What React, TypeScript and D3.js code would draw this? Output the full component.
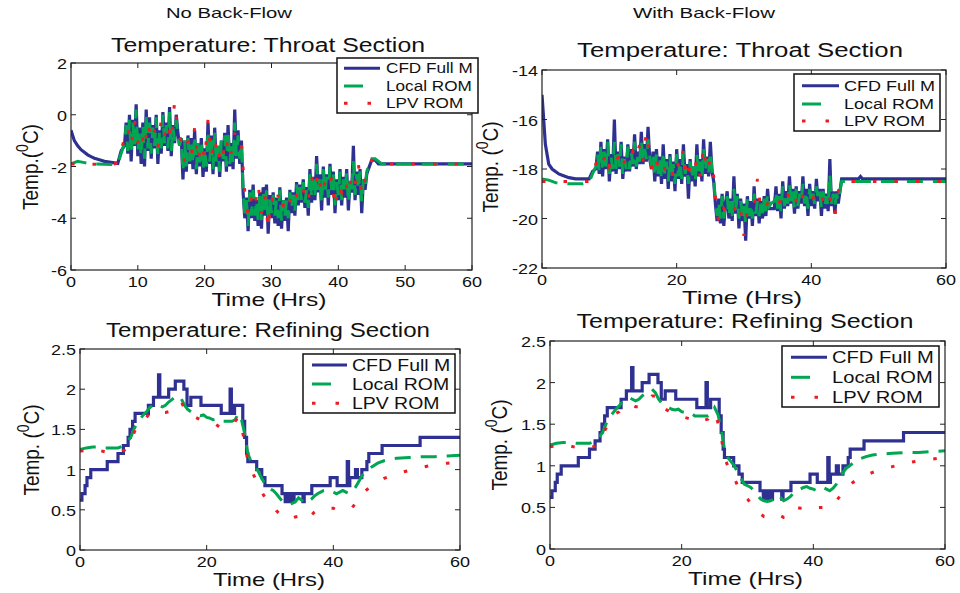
import React from "react";
import * as d3 from "d3";

type Pt = [number, number];

const seriesNames = ["CFD Full M", "Local ROM", "LPV ROM"];
const columnTitles = ["No Back-Flow", "With Back-Flow"];
const throatTitle = "Temperature: Throat Section";
const refiningTitle = "Temperature: Refining Section";
const xLabelText = "Time (Hrs)";

const xTicksFine = [0, 10, 20, 30, 40, 50, 60];
const xTicksCoarse = [0, 20, 40, 60];
const yTicksThroatNbf = [-6, -4, -2, 0, 2];
const yTicksThroatBf = [-22, -20, -18, -16, -14];
const yTicksRefining = [0, 0.5, 1, 1.5, 2, 2.5];

// ---- Throat section, no back-flow ----
const nbfThroatCfd: Pt[] = [
  [0, -0.6], [0.5, -1.0], [1, -1.2], [1.5, -1.35], [2, -1.45], [2.5, -1.55], [3, -1.62], [3.5, -1.68],
  [4, -1.72], [4.5, -1.76], [5, -1.8], [5.5, -1.82], [6, -1.84], [6.5, -1.86], [7, -1.88], [7.5, -1.4],
  [8, -1.2], [8.25, -0.3], [8.5, -1.5], [8.75, 0.0], [9, -1.8], [9.25, -0.2], [9.5, -1.2], [9.75, 0.4],
  [10, -1.6], [10.25, -0.5], [10.5, -1.9], [10.75, -0.3], [11, -2.0], [11.25, 0.2], [11.5, -1.4], [11.75, -0.1],
  [12, -1.7], [12.25, -0.4], [12.5, -1.3], [12.75, 0.0], [13, -1.9], [13.25, -0.6], [13.5, -1.5], [13.75, 0.1],
  [14, -1.2], [14.25, -0.3], [14.5, -1.4], [14.75, 0.3], [15, -1.6], [15.25, -0.4], [15.5, -1.1], [15.75, 0.0],
  [16, -0.7], [16.25, -1.2], [16.5, -0.9], [16.75, -2.5], [17, -1.0], [17.25, -2.2], [17.5, -0.8], [17.75, -1.9],
  [18, -0.9], [18.25, -2.1], [18.5, -0.6], [18.75, -2.3], [19, -1.1], [19.25, -2.0], [19.5, -0.9], [19.75, -2.4],
  [20, -1.3], [20.25, -2.2], [20.5, -0.3], [20.75, -1.9], [21, -0.8], [21.25, -2.3], [21.5, -0.5], [21.75, -2.0],
  [22, -1.2], [22.25, -2.4], [22.5, -1.0], [22.75, -1.8], [23, -0.7], [23.25, -2.2], [23.5, -0.4], [23.75, -2.0],
  [24, -1.1], [24.25, -2.1], [24.5, 0.2], [24.75, -1.7], [25, -0.6], [25.25, -1.9], [25.5, -1.0], [25.75, -3.0],
  [26, -4.0], [26.25, -3.2], [26.5, -4.5], [26.75, -2.9], [27, -4.0], [27.25, -2.7], [27.5, -4.1], [27.75, -3.3],
  [28, -4.3], [28.25, -3.0], [28.5, -4.4], [28.75, -2.8], [29, -3.9], [29.25, -2.7], [29.5, -4.6], [29.75, -3.1],
  [30, -4.0], [30.25, -3.0], [30.5, -4.2], [30.75, -3.2], [31, -4.3], [31.25, -2.8], [31.5, -4.4], [31.75, -3.3],
  [32, -4.1], [32.25, -3.2], [32.5, -4.5], [32.75, -2.9], [33, -3.8], [33.25, -3.0], [33.5, -3.9], [33.75, -2.6],
  [34, -3.5], [34.25, -2.7], [34.5, -3.4], [34.75, -2.5], [35, -3.6], [35.25, -2.8], [35.5, -3.9], [35.75, -2.1],
  [36, -3.4], [36.25, -2.4], [36.5, -3.3], [36.75, -1.6], [37, -3.0], [37.25, -2.3], [37.5, -3.7], [37.75, -2.0],
  [38, -3.2], [38.25, -2.3], [38.5, -3.5], [38.75, -1.9], [39, -3.1], [39.25, -2.2], [39.5, -3.8], [39.75, -2.5],
  [40, -3.3], [40.25, -2.1], [40.5, -3.5], [40.75, -2.4], [41, -3.2], [41.25, -2.1], [41.5, -3.7], [41.75, -2.6],
  [42, -3.0], [42.25, -1.2], [42.5, -3.3], [42.75, -2.2], [43, -3.1], [43.25, -2.1], [43.5, -3.8], [43.75, -2.5],
  [44, -2.9], [44.25, -2.3], [44.5, -2.1], [45, -1.75], [45.5, -1.75], [46, -1.9], [60, -1.9],
];
const nbfThroatLocal: Pt[] = [
  [0, -1.9], [1, -1.8], [2, -1.85], [3, -1.9], [6.5, -1.92], [7, -1.9], [7.5, -1.5],
  [8, -1.1], [8.25, -0.4], [8.5, -1.4], [8.75, -0.2], [9, -1.5], [9.25, -0.3], [9.5, -1.2], [9.75, 0.2],
  [10, -1.4], [10.25, -0.6], [10.5, -1.6], [10.75, -0.4], [11, -1.7], [11.25, 0.0], [11.5, -1.3], [11.75, -0.3],
  [12, -1.5], [12.25, -0.5], [12.5, -1.2], [12.75, -0.1], [13, -1.6], [13.25, -0.7], [13.5, -1.3], [13.75, 0.0],
  [14, -1.1], [14.25, -0.4], [14.5, -1.3], [14.75, 0.1], [15, -1.4], [15.25, -0.5], [15.5, -1.0], [15.75, -0.2],
  [16, -0.8], [16.25, -1.2], [16.5, -0.9], [16.75, -2.2], [17, -1.0], [17.25, -2.0], [17.5, -0.9], [17.75, -1.8],
  [18, -1.0], [18.25, -1.9], [18.5, -0.8], [18.75, -2.1], [19, -1.1], [19.25, -1.9], [19.5, -1.0], [19.75, -2.1],
  [20, -1.3], [20.25, -2.0], [20.5, -0.6], [20.75, -1.8], [21, -0.9], [21.25, -2.1], [21.5, -0.7], [21.75, -1.9],
  [22, -1.2], [22.25, -2.2], [22.5, -1.0], [22.75, -1.7], [23, -0.8], [23.25, -2.0], [23.5, -0.6], [23.75, -1.9],
  [24, -1.1], [24.25, -1.9], [24.5, -0.3], [24.75, -1.6], [25, -0.8], [25.25, -1.7], [25.5, -1.1], [25.75, -2.9],
  [26, -3.8], [26.25, -3.3], [26.5, -4.3], [26.75, -3.0], [27, -3.9], [27.25, -2.9], [27.5, -3.9], [27.75, -3.3],
  [28, -4.1], [28.25, -3.1], [28.5, -4.1], [28.75, -2.9], [29, -3.8], [29.25, -2.9], [29.5, -4.2], [29.75, -3.2],
  [30, -3.8], [30.25, -3.1], [30.5, -3.9], [30.75, -3.3], [31, -4.0], [31.25, -2.9], [31.5, -4.1], [31.75, -3.3],
  [32, -3.9], [32.25, -3.3], [32.5, -4.0], [32.75, -3.0], [33, -3.6], [33.25, -3.1], [33.5, -3.7], [33.75, -2.7],
  [34, -3.3], [34.25, -2.8], [34.5, -3.3], [34.75, -2.6], [35, -3.4], [35.25, -2.9], [35.5, -3.6], [35.75, -2.2],
  [36, -3.2], [36.25, -2.5], [36.5, -3.1], [36.75, -1.9], [37, -2.9], [37.25, -2.4], [37.5, -3.4], [37.75, -2.1],
  [38, -3.0], [38.25, -2.4], [38.5, -3.2], [38.75, -2.0], [39, -2.9], [39.25, -2.3], [39.5, -3.5], [39.75, -2.6],
  [40, -3.1], [40.25, -2.2], [40.5, -3.3], [40.75, -2.5], [41, -3.0], [41.25, -2.2], [41.5, -3.4], [41.75, -2.6],
  [42, -2.9], [42.25, -1.8], [42.5, -3.1], [42.75, -2.3], [43, -2.9], [43.25, -2.2], [43.5, -3.4], [43.75, -2.5],
  [44, -2.8], [44.25, -2.2], [44.5, -2.0], [45, -1.7], [45.5, -1.7], [46.5, -1.9], [60, -1.9],
];
const nbfThroatLpv: Pt[] = [
  [0, -1.9], [2, -1.9], [4, -1.92], [6.5, -1.9], [7, -1.85], [7.5, -1.4], [8, -0.9],
  [8.5, -0.5], [9, -1.2], [9.5, -0.2], [10, -1.1], [10.5, -0.6], [11, -1.3], [11.5, -0.3], [12, -1.0],
  [12.5, -0.6], [13, -1.3], [13.5, -0.2], [14, -0.8], [14.5, -0.3], [15, -1.0], [15.5, 0.5], [16, -0.7],
  [16.5, -1.0], [17, -1.8], [17.5, -1.0], [18, -1.6], [18.5, -0.5], [19, -1.8], [19.5, -1.1], [20, -1.7],
  [20.5, -0.2], [21, -1.6], [21.5, -0.9], [22, -1.8], [22.5, -1.1], [23, -1.7], [23.5, -0.9], [24, -1.5],
  [24.5, -0.7], [25, -1.2], [25.5, -1.1], [26, -3.0], [26.5, -3.9], [27, -3.2], [27.5, -3.6], [28, -2.7],
  [28.5, -3.8], [29, -3.1], [29.5, -4.4], [30, -3.2], [30.5, -3.6], [31, -3.1], [31.5, -3.7], [32, -3.3],
  [32.5, -3.6], [33, -3.1], [33.5, -3.4], [34, -2.9], [34.5, -3.2], [35, -2.8], [35.5, -3.3], [36, -2.4],
  [36.5, -2.9], [37, -2.2], [37.5, -3.1], [38, -2.6], [38.5, -2.9], [39, -2.4], [39.5, -3.6], [40, -2.7],
  [40.5, -3.0], [41, -2.5], [41.5, -3.1], [42, -2.3], [42.5, -2.7], [43, -1.9], [43.5, -3.1], [44, -2.5],
  [44.5, -2.0], [45, -1.75], [45.5, -1.8], [46, -1.9], [60, -1.9],
];

// ---- Throat section, with back-flow ----
const bfThroatCfd: Pt[] = [
  [0, -15.0], [0.5, -17.0], [1, -17.8], [1.5, -18.0], [2, -18.1], [2.5, -18.2], [3, -18.25], [3.5, -18.3],
  [4, -18.35], [5, -18.4], [7, -18.4], [7.5, -18.1],
  [8, -18.0], [8.25, -17.3], [8.5, -18.2], [8.75, -16.9], [9, -18.3], [9.25, -17.2], [9.5, -18.0], [9.75, -16.8],
  [10, -18.5], [10.25, -17.4], [10.5, -18.1], [10.75, -16.0], [11, -18.2], [11.25, -17.3], [11.5, -18.0], [11.75, -16.9],
  [12, -18.4], [12.25, -17.5], [12.5, -18.1], [12.75, -17.0], [13, -18.1], [13.25, -17.2], [13.5, -17.9], [13.75, -16.6],
  [14, -18.0], [14.25, -17.3], [14.5, -17.8], [14.75, -16.5], [15, -17.8], [15.25, -17.0], [15.5, -17.7], [15.75, -16.3],
  [16, -17.6], [16.25, -18.0], [16.5, -17.3], [16.75, -18.5], [17, -17.2], [17.25, -18.3], [17.5, -17.5], [17.75, -18.6],
  [18, -17.0], [18.25, -18.4], [18.5, -17.6], [18.75, -18.8], [19, -17.4], [19.25, -18.5], [19.5, -17.7], [19.75, -18.9],
  [20, -17.2], [20.25, -18.4], [20.5, -17.6], [20.75, -18.6], [21, -17.0], [21.25, -18.3], [21.5, -17.8], [21.75, -19.2],
  [22, -17.6], [22.25, -18.5], [22.5, -17.9], [22.75, -18.7], [23, -17.0], [23.25, -18.3], [23.5, -17.6], [23.75, -18.5],
  [24, -16.8], [24.25, -18.2], [24.5, -17.5], [24.75, -18.3], [25, -16.9], [25.25, -18.1], [25.5, -18.5], [25.75, -19.4],
  [26, -20.1], [26.25, -19.2], [26.5, -20.2], [26.75, -19.0], [27, -20.3], [27.25, -19.4], [27.5, -18.9], [27.75, -20.0],
  [28, -19.2], [28.25, -20.1], [28.5, -18.3], [28.75, -19.8], [29, -19.0], [29.25, -20.4], [29.5, -19.2], [29.75, -20.1],
  [30, -19.4], [30.25, -20.9], [30.5, -19.1], [30.75, -20.0], [31, -19.3], [31.25, -20.3], [31.5, -18.7], [31.75, -19.9],
  [32, -19.2], [32.25, -20.2], [32.5, -19.3], [32.75, -20.0], [33, -19.1], [33.25, -19.9], [33.5, -18.8], [33.75, -19.6],
  [34, -19.6], [34.5, -19.6], [34.75, -18.7], [35, -19.7], [35.25, -19.0], [35.5, -20.0], [35.75, -18.5], [36, -19.6],
  [36.25, -18.9], [36.5, -19.5], [36.75, -18.3], [37, -19.4], [37.25, -18.8], [37.5, -19.8], [37.75, -18.7], [38, -19.6],
  [38.25, -18.9], [38.5, -19.4], [38.75, -18.3], [39, -19.5], [39.25, -18.8], [39.5, -19.9], [39.75, -18.6], [40, -19.5],
  [40.25, -18.9], [40.5, -19.6], [40.75, -18.4], [41, -19.3], [41.25, -18.8], [41.5, -19.9], [41.75, -18.8], [42, -19.6],
  [42.25, -19.0], [42.5, -19.7], [42.75, -17.6], [43, -19.5], [43.25, -18.9], [43.5, -19.8], [43.75, -18.9], [44, -19.4],
  [44.25, -18.9], [44.5, -18.4], [47, -18.4], [47.3, -18.3], [47.6, -18.4], [60, -18.4],
];
const bfThroatLocal: Pt[] = [
  [0, -18.4], [1, -18.45], [2, -18.55], [3, -18.6], [6, -18.6], [7, -18.55], [7.5, -18.2],
  [8, -17.9], [8.25, -17.4], [8.5, -18.1], [8.75, -17.0], [9, -18.1], [9.25, -17.3], [9.5, -17.9], [9.75, -16.9],
  [10, -18.2], [10.25, -17.5], [10.5, -18.0], [10.75, -16.9], [11, -18.0], [11.25, -17.4], [11.5, -17.9], [11.75, -17.0],
  [12, -18.2], [12.25, -17.6], [12.5, -18.0], [12.75, -17.1], [13, -18.0], [13.25, -17.3], [13.5, -17.8], [13.75, -16.9],
  [14, -17.9], [14.25, -17.4], [14.5, -17.7], [14.75, -16.8], [15, -17.7], [15.25, -17.2], [15.5, -17.6], [15.75, -16.8],
  [16, -17.5], [16.25, -17.9], [16.5, -17.4], [16.75, -18.3], [17, -17.4], [17.25, -18.2], [17.5, -17.6], [17.75, -18.4],
  [18, -17.3], [18.25, -18.3], [18.5, -17.7], [18.75, -18.5], [19, -17.5], [19.25, -18.4], [19.5, -17.8], [19.75, -18.6],
  [20, -17.4], [20.25, -18.3], [20.5, -17.7], [20.75, -18.4], [21, -17.3], [21.25, -18.2], [21.5, -17.9], [21.75, -18.6],
  [22, -17.7], [22.25, -18.4], [22.5, -17.9], [22.75, -18.5], [23, -17.4], [23.25, -18.2], [23.5, -17.7], [23.75, -18.4],
  [24, -17.2], [24.25, -18.1], [24.5, -17.6], [24.75, -18.2], [25, -17.3], [25.25, -18.0], [25.5, -18.4], [25.75, -19.3],
  [26, -19.9], [26.25, -19.3], [26.5, -20.0], [26.75, -19.1], [27, -20.0], [27.25, -19.4], [27.5, -19.1], [27.75, -19.9],
  [28, -19.3], [28.25, -19.9], [28.5, -18.8], [28.75, -19.7], [29, -19.1], [29.25, -20.0], [29.5, -19.3], [29.75, -19.9],
  [30, -19.5], [30.25, -20.2], [30.5, -19.2], [30.75, -19.9], [31, -19.4], [31.25, -20.0], [31.5, -19.0], [31.75, -19.8],
  [32, -19.3], [32.25, -19.9], [32.5, -19.4], [32.75, -19.8], [33, -19.2], [33.25, -19.7], [33.5, -19.0], [33.75, -19.5],
  [34, -19.4], [34.5, -19.3], [34.75, -18.9], [35, -19.6], [35.25, -19.1], [35.5, -19.7], [35.75, -18.7], [36, -19.5],
  [36.25, -19.0], [36.5, -19.4], [36.75, -18.6], [37, -19.3], [37.25, -18.9], [37.5, -19.6], [37.75, -18.8], [38, -19.5],
  [38.25, -19.0], [38.5, -19.3], [38.75, -18.6], [39, -19.4], [39.25, -18.9], [39.5, -19.6], [39.75, -18.8], [40, -19.4],
  [40.25, -19.0], [40.5, -19.4], [40.75, -18.7], [41, -19.2], [41.25, -18.9], [41.5, -19.6], [41.75, -18.9], [42, -19.5],
  [42.25, -19.1], [42.5, -19.5], [42.75, -18.2], [43, -19.4], [43.25, -19.0], [43.5, -19.5], [43.75, -19.0], [44, -19.3],
  [44.25, -18.9], [44.5, -18.5], [60, -18.5],
];
const bfThroatLpv: Pt[] = [
  [0, -18.5], [7, -18.5], [7.5, -18.2], [8, -17.8],
  [8.5, -17.5], [9, -17.8], [9.5, -17.3], [10, -17.9], [10.5, -17.5], [11, -17.7], [11.5, -17.4], [12, -17.9],
  [12.5, -17.5], [13, -17.7], [13.5, -17.3], [14, -17.6], [14.5, -17.0], [15, -17.7], [15.5, -16.5], [16, -17.6],
  [16.5, -18.2], [17, -17.7], [17.5, -18.1], [18, -17.8], [18.5, -18.2], [19, -17.9], [19.5, -18.3], [20, -17.7],
  [20.5, -18.0], [21, -17.2], [21.5, -18.4], [22, -17.9], [22.5, -18.2], [23, -17.6], [23.5, -18.3], [24, -17.1],
  [24.5, -18.1], [25, -17.6], [25.5, -18.3], [26, -19.9], [26.5, -20.2], [27, -19.6], [27.5, -19.8], [28, -19.5],
  [28.5, -19.7], [29, -19.3], [29.5, -19.7], [30, -20.7], [30.5, -19.6], [31, -19.7], [31.5, -19.5], [32, -18.4],
  [32.5, -19.7], [33, -19.6], [33.5, -19.4], [34, -19.5], [34.5, -19.3], [35, -19.5], [35.5, -19.2], [36, -19.4],
  [36.5, -19.0], [37, -19.4], [37.5, -19.1], [38, -19.5], [38.5, -19.0], [39, -19.3], [39.5, -19.2], [40, -19.4],
  [40.5, -19.0], [41, -19.3], [41.5, -19.1], [42, -19.4], [42.5, -19.0], [43, -19.3], [43.5, -19.9], [44, -18.9],
  [44.5, -18.5], [60, -18.5],
];

// ---- Refining section (same in both columns) ----
const refiningCfd: Pt[] = [
  [0, 0.62], [0.3, 0.7], [0.8, 0.8], [1.1, 0.9], [1.7, 1.0], [4.3, 1.1], [6.0, 1.2], [6.85, 1.3],
  [7.6, 1.4], [7.9, 1.5], [8.3, 1.6], [8.7, 1.7], [10.8, 1.8], [11.6, 1.9], [12.4, 2.18], [12.6, 1.9],
  [14.0, 2.0], [15.05, 2.1], [16.4, 2.0], [16.9, 1.8], [17.5, 1.9], [19.1, 1.8], [22.3, 1.7], [23.7, 2.0],
  [23.9, 1.7], [24.4, 1.8], [25.7, 1.6], [26.0, 1.4], [26.3, 1.2], [26.5, 1.1], [27.9, 1.0], [28.7, 0.9],
  [29.2, 0.8], [31.9, 0.7], [32.4, 0.6], [32.6, 0.7], [33.0, 0.6], [33.2, 0.7], [33.6, 0.6], [33.8, 0.7],
  [35.2, 0.6], [35.4, 0.7], [36.6, 0.8], [39.5, 0.9], [40.6, 0.8], [42.2, 1.1], [42.4, 0.8], [42.6, 0.9],
  [43.5, 1.0], [43.8, 0.9], [44.5, 1.0], [45.3, 1.1], [45.6, 1.2], [47.7, 1.3], [53.7, 1.4], [60, 1.4],
];
const refiningLocal: Pt[] = [
  [0, 1.25], [1, 1.27], [2, 1.28], [3, 1.28], [4, 1.27], [5, 1.27], [6, 1.27], [7, 1.3], [7.5, 1.35],
  [8, 1.4], [8.5, 1.5], [9, 1.58], [9.5, 1.63], [10, 1.68], [10.5, 1.72], [11, 1.77], [11.5, 1.8],
  [12, 1.82], [12.5, 1.8], [13, 1.78], [13.5, 1.8], [14, 1.84], [14.5, 1.87], [15, 1.9], [15.5, 1.92],
  [16, 1.88], [16.5, 1.8], [17, 1.75], [17.5, 1.72], [18, 1.7], [18.5, 1.68], [19, 1.67], [19.5, 1.68],
  [20, 1.65], [20.5, 1.64], [21, 1.62], [21.5, 1.63], [22, 1.6], [23, 1.6], [24, 1.6], [24.5, 1.62],
  [25, 1.7], [25.5, 1.62], [26, 1.45], [26.5, 1.2], [27, 1.1], [27.5, 1.05], [28, 1.0], [28.5, 0.92],
  [29, 0.85], [29.5, 0.78], [30, 0.76], [30.5, 0.74], [31, 0.7], [31.5, 0.65], [32, 0.6], [32.5, 0.58],
  [33, 0.57], [33.5, 0.58], [34, 0.6], [34.5, 0.65], [35, 0.62], [35.5, 0.58], [36, 0.6], [36.5, 0.63],
  [37, 0.67], [37.5, 0.7], [38, 0.72], [38.5, 0.74], [39, 0.75], [39.5, 0.73], [40, 0.72], [40.5, 0.7],
  [41, 0.72], [41.5, 0.74], [42, 0.72], [42.5, 0.7], [43, 0.73], [43.5, 0.78], [44, 0.85], [44.5, 0.92],
  [45, 0.97], [46, 1.03], [47, 1.08], [48, 1.11], [49, 1.13], [50, 1.14], [52, 1.15], [54, 1.16],
  [56, 1.16], [58, 1.17], [60, 1.18],
];
const refiningLpv: Pt[] = [
  [0, 1.23], [1, 1.24], [2, 1.25], [3, 1.24], [4, 1.22], [5, 1.21], [6, 1.21], [7, 1.24], [7.5, 1.3],
  [8, 1.37], [8.5, 1.45], [9, 1.55], [9.5, 1.6], [10, 1.63], [10.5, 1.65], [11, 1.7], [11.5, 1.73],
  [12, 1.73], [12.5, 1.73], [13, 1.71], [13.5, 1.71], [14, 1.72], [14.5, 1.75], [15, 1.8], [15.5, 1.84],
  [16, 1.84], [16.5, 1.76], [17, 1.7], [17.5, 1.68], [18, 1.66], [18.5, 1.64], [19, 1.62], [19.5, 1.61],
  [20, 1.6], [20.5, 1.58], [21, 1.57], [21.5, 1.56], [22, 1.53], [22.5, 1.52], [23, 1.53], [23.5, 1.55],
  [24, 1.56], [24.5, 1.6], [25, 1.65], [25.5, 1.52], [26, 1.35], [26.5, 1.1], [27, 1.0], [27.5, 0.92],
  [28, 0.85], [28.5, 0.76], [29, 0.68], [29.5, 0.64], [30, 0.6], [30.5, 0.55], [31, 0.49], [31.5, 0.45],
  [32, 0.42], [32.5, 0.39], [33, 0.38], [33.5, 0.39], [34, 0.41], [34.5, 0.42], [35, 0.4], [35.5, 0.38],
  [36, 0.38], [36.5, 0.43], [37, 0.47], [37.5, 0.5], [38, 0.49], [38.5, 0.5], [39, 0.51], [39.5, 0.52],
  [40, 0.52], [40.5, 0.5], [41, 0.5], [41.5, 0.5], [42, 0.51], [42.5, 0.52], [43, 0.53], [43.5, 0.58],
  [44, 0.63], [44.5, 0.68], [45, 0.73], [46, 0.8], [47, 0.85], [48, 0.89], [49, 0.92], [50, 0.95],
  [52, 0.99], [54, 1.03], [56, 1.06], [58, 1.08], [60, 1.1],
];

const COL_CFD = "#2E3192";
const COL_LOCAL = "#00A651";
const COL_LPV = "#ED1C24";
const SX = 1.2;
const FONT = "'Liberation Sans', Arial, Helvetica, sans-serif";
const DASH_LOCAL = "16 10";
const DASH_LPV = "3.5 18";

interface LegendCfg {
  x0: number; y0: number; x1: number; y1: number;
  lx1: number; lx2: number; tx: number; rows: number[]; fs: number;
}
interface PanelCfg {
  id: string;
  left: number; right: number; top: number; bottom: number;
  yDomain: [number, number];
  xTicks: number[]; yTicks: number[];
  title: string; titleX: number; titleY: number; titleW: number;
  xLabelX: number; xLabelW: number;
  yLabelX: number; yLabelY: number; yLabelSpace: boolean;
  legend: LegendCfg;
  cfd: Pt[]; local: Pt[]; lpv: Pt[]; cfdStep: boolean;
}

const panels: PanelCfg[] = [
  {
    id: "p1", left: 71, right: 472, top: 63, bottom: 270, yDomain: [-6, 2],
    xTicks: xTicksFine, yTicks: yTicksThroatNbf,
    title: throatTitle, titleX: 268, titleY: 52, titleW: 314,
    xLabelX: 269, xLabelW: 115, yLabelX: 38, yLabelY: 167, yLabelSpace: false,
    legend: { x0: 337, y0: 58, x1: 478, y1: 113, lx1: 344, lx2: 380, tx: 386, rows: [68.3, 86, 103.3], fs: 14.3 },
    cfd: nbfThroatCfd, local: nbfThroatLocal, lpv: nbfThroatLpv, cfdStep: false,
  },
  {
    id: "p2", left: 542, right: 946, top: 70, bottom: 268, yDomain: [-22, -14],
    xTicks: xTicksCoarse, yTicks: yTicksThroatBf,
    title: throatTitle, titleX: 740, titleY: 57, titleW: 326,
    xLabelX: 742, xLabelW: 120, yLabelX: 498, yLabelY: 167, yLabelSpace: true,
    legend: { x0: 794, y0: 74, x1: 940, y1: 131, lx1: 802, lx2: 839, tx: 844, rows: [85.7, 104, 121], fs: 15 },
    cfd: bfThroatCfd, local: bfThroatLocal, lpv: bfThroatLpv, cfdStep: false,
  },
  {
    id: "p3", left: 80, right: 460, top: 349, bottom: 550, yDomain: [0, 2.5],
    xTicks: xTicksCoarse, yTicks: yTicksRefining,
    title: refiningTitle, titleX: 268, titleY: 337, titleW: 324,
    xLabelX: 269, xLabelW: 112, yLabelX: 39, yLabelY: 450, yLabelSpace: true,
    legend: { x0: 303, y0: 354, x1: 455, y1: 413, lx1: 312, lx2: 347, tx: 352, rows: [365, 384, 403.3], fs: 16.2 },
    cfd: refiningCfd, local: refiningLocal, lpv: refiningLpv, cfdStep: true,
  },
  {
    id: "p4", left: 550, right: 945, top: 341, bottom: 549, yDomain: [0, 2.5],
    xTicks: xTicksCoarse, yTicks: yTicksRefining,
    title: refiningTitle, titleX: 745, titleY: 328, titleW: 337,
    xLabelX: 745.5, xLabelW: 115, yLabelX: 507, yLabelY: 445, yLabelSpace: true,
    legend: { x0: 782, y0: 346, x1: 939, y1: 407, lx1: 791, lx2: 827, tx: 832, rows: [357.3, 377.3, 397.3], fs: 16.8 },
    cfd: refiningCfd, local: refiningLocal, lpv: refiningLpv, cfdStep: true,
  },
];

const columnTitleCfg = [
  { x: 229, y: 18, w: 126 },
  { x: 704, y: 18, w: 142 },
];

function SText(props: {
  x: number; y: number; fs: number; anchor?: string; w?: number; children: React.ReactNode;
}) {
  const { x, y, fs, anchor = "start", w, children } = props;
  if (w) {
    return (
      <text x={x} y={y} fontSize={fs} textAnchor={anchor} textLength={w} lengthAdjust="spacingAndGlyphs"
        fontFamily={FONT} fill="#111">{children}</text>
    );
  }
  return (
    <text transform={`translate(${x},${y}) scale(${SX},1)`} fontSize={fs} textAnchor={anchor}
      fontFamily={FONT} fill="#111">{children}</text>
  );
}

function fmt(v: number) {
  return String(v);
}

function Panel({ cfg }: { cfg: PanelCfg }) {
  const x = d3.scaleLinear().domain([0, 60]).range([cfg.left, cfg.right]);
  const y = d3.scaleLinear().domain(cfg.yDomain).range([cfg.bottom, cfg.top]);
  const lin = d3.line<Pt>().x((d) => x(d[0])).y((d) => y(d[1]));
  const step = d3.line<Pt>().x((d) => x(d[0])).y((d) => y(d[1])).curve(d3.curveStepAfter);
  const tl = 5;
  const lg = cfg.legend;
  return (
    <g>
      <defs>
        <clipPath id={`clip-${cfg.id}`}>
          <rect x={cfg.left} y={cfg.top} width={cfg.right - cfg.left} height={cfg.bottom - cfg.top} />
        </clipPath>
      </defs>
      <rect x={cfg.left} y={cfg.top} width={cfg.right - cfg.left} height={cfg.bottom - cfg.top} fill="#fff" />
      <g clipPath={`url(#clip-${cfg.id})`}>
        <path d={(cfg.cfdStep ? step : lin)(cfg.cfd) || ""} fill="none" stroke={COL_CFD} strokeWidth={3.2} />
        <path d={lin(cfg.local) || ""} fill="none" stroke={COL_LOCAL} strokeWidth={3} strokeDasharray={DASH_LOCAL} />
        <path d={lin(cfg.lpv) || ""} fill="none" stroke={COL_LPV} strokeWidth={3} strokeDasharray={DASH_LPV} />
      </g>
      <rect x={cfg.left} y={cfg.top} width={cfg.right - cfg.left} height={cfg.bottom - cfg.top}
        fill="none" stroke="#222" strokeWidth={1.2} />
      {cfg.xTicks.map((t) => (
        <g key={`xt${t}`}>
          <line x1={x(t)} x2={x(t)} y1={cfg.bottom} y2={cfg.bottom - tl} stroke="#222" />
          <line x1={x(t)} x2={x(t)} y1={cfg.top} y2={cfg.top + tl} stroke="#222" />
          <SText x={x(t)} y={cfg.bottom + 17} fs={15} anchor="middle">{fmt(t)}</SText>
        </g>
      ))}
      {cfg.yTicks.map((t) => (
        <g key={`yt${t}`}>
          <line x1={cfg.left} x2={cfg.left + tl} y1={y(t)} y2={y(t)} stroke="#222" />
          <line x1={cfg.right} x2={cfg.right - tl} y1={y(t)} y2={y(t)} stroke="#222" />
          <SText x={cfg.left - 4} y={y(t) + 6} fs={15} anchor="end">{fmt(t)}</SText>
        </g>
      ))}
      <SText x={cfg.titleX} y={cfg.titleY} fs={20} anchor="middle" w={cfg.titleW}>{cfg.title}</SText>
      <SText x={cfg.xLabelX} y={cfg.bottom + 36} fs={19} anchor="middle" w={cfg.xLabelW}>{xLabelText}</SText>
      <text transform={`translate(${cfg.yLabelX},${cfg.yLabelY}) rotate(-90) scale(1,${SX})`}
        fontSize={19} textAnchor="middle" fontFamily={FONT} fill="#111">
        {cfg.yLabelSpace ? "Temp. (" : "Temp.("}
        <tspan dy={-8} fontSize={14}>0</tspan>
        <tspan dy={8}>C)</tspan>
      </text>
      <rect x={lg.x0} y={lg.y0} width={lg.x1 - lg.x0} height={lg.y1 - lg.y0} fill="#fff" stroke="#111" strokeWidth={1.5} />
      <line x1={lg.lx1} x2={lg.lx2} y1={lg.rows[0]} y2={lg.rows[0]} stroke={COL_CFD} strokeWidth={3} />
      <line x1={lg.lx1} x2={lg.lx2} y1={lg.rows[1]} y2={lg.rows[1]} stroke={COL_LOCAL} strokeWidth={3} strokeDasharray="19 40" />
      <line x1={lg.lx1} x2={lg.lx2} y1={lg.rows[2]} y2={lg.rows[2]} stroke={COL_LPV} strokeWidth={3} strokeDasharray="3.5 20" />
      {seriesNames.map((n, i) => (
        <SText key={n} x={lg.tx} y={lg.rows[i] + lg.fs * 0.36} fs={lg.fs}>{n}</SText>
      ))}
    </g>
  );
}

export default function App() {
  return (
    <svg width={960} height={593} viewBox="0 0 960 593"
      style={{ position: "absolute", left: 0, top: 0, background: "#fff" }}>
      <rect x={0} y={0} width={960} height={593} fill="#fff" />
      {columnTitles.map((t, i) => (
        <SText key={t} x={columnTitleCfg[i].x} y={columnTitleCfg[i].y} fs={15} anchor="middle" w={columnTitleCfg[i].w}>{t}</SText>
      ))}
      {panels.map((p) => (
        <Panel key={p.id} cfg={p} />
      ))}
    </svg>
  );
}
